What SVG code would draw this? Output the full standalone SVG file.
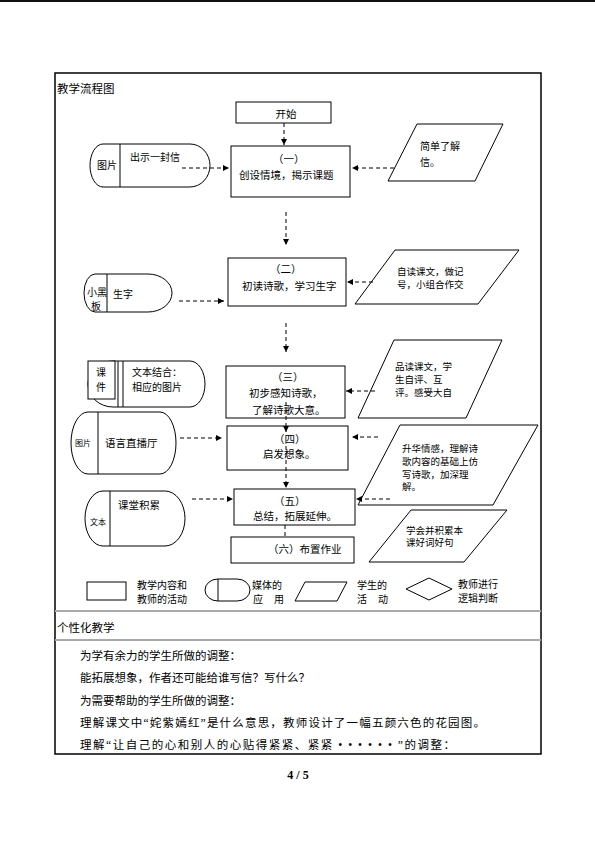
<svg xmlns="http://www.w3.org/2000/svg" width="595" height="841" viewBox="0 0 595 841">
<style>
text{font-family:"Liberation Serif","Noto Sans CJK SC",serif;fill:#000}
.s{fill:#fff;stroke:#000;stroke-width:1}
.c{stroke:#000;stroke-width:1;stroke-dasharray:4 3;fill:none}
.t10{font-size:10.5px}
.t9{font-size:10px}
.p{font-size:9.5px}
.t8{font-size:8px}
.tb{font-size:11.5px}
.g{stroke:#aaa;stroke-width:2}
</style>
<defs>
<marker id="ah" markerUnits="userSpaceOnUse" markerWidth="7" markerHeight="6" refX="6" refY="3" orient="auto"><path d="M0,0 L6,3 L0,6 z" fill="#000"/></marker>
</defs>
<rect x="0" y="0" width="595" height="841" fill="#fff"/>
<line x1="0" y1="1" x2="595" y2="1" stroke="#111" stroke-width="2"/>
<g id="frame">
<rect x="55" y="73" width="486" height="681" fill="none" stroke="#000" stroke-width="1.5"/>
<line class="g" x1="55" y1="611" x2="541" y2="611"/>
<line class="g" x1="55" y1="640" x2="541" y2="640"/>
</g>
<text class="tb" x="57" y="93">教学流程图</text>

<g id="start"><rect class="s" x="236" y="102" width="95" height="21"/><text class="t10" x="286" y="118" text-anchor="middle">开始</text></g>

<g id="step1"><rect class="s" x="231" y="146" width="119" height="51"/>
<text class="t10" x="273" y="163">（一）</text><text class="t10" x="239" y="179">创设情境，揭示课题</text></g>

<g id="step2"><rect class="s" x="228" y="258" width="118" height="48"/>
<text class="t10" x="270" y="273">（二）</text><text class="t10" x="242" y="290">初读诗歌，学习生字</text></g>

<g id="step3"><rect class="s" x="226" y="366" width="119" height="52"/>
<text class="t10" x="272" y="381">（三）</text><text class="t10" x="249" y="397">初步感知诗歌，</text><text class="t10" x="252" y="414">了解诗歌大意。</text></g>

<g id="step4"><rect class="s" x="227" y="426" width="121" height="44"/>
<text class="t10" x="274" y="443">（四）</text><text class="t10" x="263" y="458">启发想象。</text></g>

<g id="step5"><rect class="s" x="234" y="489" width="121" height="36"/>
<text class="t10" x="274" y="505">（五）</text><text class="t10" x="253" y="520">总结，拓展延伸。</text></g>

<g id="step6"><rect class="s" x="231" y="537" width="123" height="26"/>
<text class="t10" x="268" y="553">（六）布置作业</text></g>

<g id="media1"><path class="s" d="M103,144 H190 A20,21.5 0 0 1 190,187 H103 A13,21.5 0 0 1 103,144 Z"/>
<line x1="120" y1="144" x2="120" y2="187" stroke="#000"/>
<text class="t9" x="97" y="169">图片</text><text class="t9" x="130" y="161">出示一封信</text></g>

<g id="media2"><path class="s" d="M95,274 H148 A24,19 0 0 1 148,312 H95 A11,19 0 0 1 95,274 Z"/>
<line x1="107" y1="274" x2="107" y2="312" stroke="#000"/>
<text class="t9" x="87" y="296">小黑</text><text class="t9" x="91" y="310">板</text><text class="t9" x="113" y="298">生字</text></g>

<g id="media3"><path class="s" d="M113,361 H190 A15,23 0 0 1 190,407 H113 A25,23 0 0 1 113,361 Z"/>
<rect class="s" x="88" y="361" width="27" height="38"/>
<line x1="118" y1="361" x2="118" y2="407" stroke="#000"/>
<line x1="123" y1="361" x2="123" y2="407" stroke="#000"/>
<text class="t9" x="96" y="376">课</text><text class="t9" x="96" y="391">件</text>
<text class="t9" x="132" y="376">文本结合：</text><text class="t9" x="132" y="391">相应的图片</text></g>

<g id="media4"><path class="s" d="M88,412 H160 A16,31 0 0 1 160,474 H88 A17,31 0 0 1 88,412 Z"/>
<line x1="98" y1="412" x2="98" y2="474" stroke="#000"/>
<text class="t8" x="75" y="446">图片</text><text class="t10" x="105" y="447">语言直播厅</text></g>

<g id="media5"><path class="s" d="M103,491 H165 A20,27.5 0 0 1 165,546 H103 A18,27.5 0 0 1 103,491 Z"/>
<line x1="110" y1="491" x2="110" y2="546" stroke="#000"/>
<text class="t8" x="90" y="525">文本</text><text class="t10" x="118" y="509">课堂积累</text></g>

<g id="student1"><path class="s" d="M417,124 H503 L475,181 H388 Z"/>
<text class="t9" x="420" y="150">简单了解</text><text class="t9" x="420" y="166">信。</text></g>

<g id="student2"><path class="s" d="M395,250 H519 L478,304 H355 Z"/>
<text class="p" x="397" y="275">自读课文，做记</text><text class="p" x="397" y="288">号，小组合作交</text></g>

<g id="student3"><path class="s" d="M394,340 H502 L466,418 H358 Z"/>
<text class="p" x="395" y="370">品读课文，学</text><text class="p" x="395" y="383">生自评、互</text><text class="p" x="395" y="396">评。感受大自</text></g>

<g id="student4"><path class="s" d="M400,425 H538 L493,505 H358 Z"/>
<text class="p" x="402" y="452">升华情感，理解诗</text><text class="p" x="402" y="465">歌内容的基础上仿</text><text class="p" x="402" y="478">写诗歌，加深理</text><text class="p" x="402" y="490">解。</text></g>

<g id="student5"><path class="s" d="M411,510 H507 L464,562 H369 Z"/>
<text class="p" x="406" y="534">学会并积累本</text><text class="p" x="406" y="546">课好词好句</text></g>

<g id="connectors">
<line class="c" x1="284" y1="123" x2="284" y2="145" marker-end="url(#ah)"/>
<line class="c" x1="182" y1="168" x2="229" y2="168" marker-end="url(#ah)"/>
<line class="c" x1="394" y1="168" x2="352" y2="168" marker-end="url(#ah)"/>
<line class="c" x1="286" y1="212" x2="286" y2="245" marker-end="url(#ah)"/>
<line class="c" x1="179" y1="301" x2="224" y2="301" marker-end="url(#ah)"/>
<line class="c" x1="373" y1="282" x2="347" y2="282" marker-end="url(#ah)"/>
<line class="c" x1="286" y1="323" x2="286" y2="352" marker-end="url(#ah)"/>
<line class="c" x1="286" y1="402" x2="286" y2="432" marker-end="url(#ah)"/>
<line class="c" x1="286" y1="446" x2="286" y2="488" marker-end="url(#ah)"/>
<line class="c" x1="285" y1="525" x2="285" y2="537"/>
<line class="c" x1="180" y1="438" x2="222" y2="438" marker-end="url(#ah)"/>
<line class="c" x1="375" y1="391" x2="346" y2="391" marker-end="url(#ah)"/>
<line class="c" x1="378" y1="437" x2="352" y2="437" marker-end="url(#ah)"/>
<line class="c" x1="390" y1="499" x2="356" y2="499" marker-end="url(#ah)"/>
<line class="c" x1="192" y1="499" x2="233" y2="499" marker-end="url(#ah)"/>
</g>

<g id="legend">
<rect class="s" x="87" y="582" width="39" height="18"/>
<text class="t9" x="137" y="589">教学内容和</text><text class="t9" x="137" y="603">教师的活动</text>
<path class="s" d="M218,579 H237 A13,11 0 0 1 237,601 H218 A13,11 0 0 1 218,579 Z"/>
<line x1="218" y1="579" x2="218" y2="601" stroke="#000"/>
<text class="t9" x="252" y="589">媒体的</text><text class="t9" x="253" y="603">应</text><text class="t9" x="274" y="603">用</text>
<path class="s" d="M305,582 H347 L337,601 H295 Z"/>
<text class="t9" x="357" y="589">学生的</text><text class="t9" x="357" y="603">活</text><text class="t9" x="378" y="603">动</text>
<path class="s" d="M406,589 L429,578 L452,589 L429,600 Z"/>
<text class="t9" x="458" y="588">教师进行</text><text class="t9" x="458" y="602">逻辑判断</text>
</g>

<text class="tb" x="57" y="632">个性化教学</text>
<text class="tb" x="80" y="660">为学有余力的学生所做的调整：</text>
<text class="tb" x="80" y="682">能拓展想象，作者还可能给谁写信？写什么？</text>
<text class="tb" x="80" y="705">为需要帮助的学生所做的调整：</text>
<text class="tb" x="80" y="727" textLength="405" lengthAdjust="spacing">理解课文中“姹紫嫣红”是什么意思，教师设计了一幅五颜六色的花园图。</text>
<text class="tb" x="80" y="749" textLength="375" lengthAdjust="spacing">理解“让自己的心和别人的心贴得紧紧、紧紧 • • • • • • ”的调整：</text>
<text x="298" y="779" text-anchor="middle" style="font-family:'Liberation Serif',serif;font-size:12px;font-weight:bold">4 / 5</text>
</svg>
